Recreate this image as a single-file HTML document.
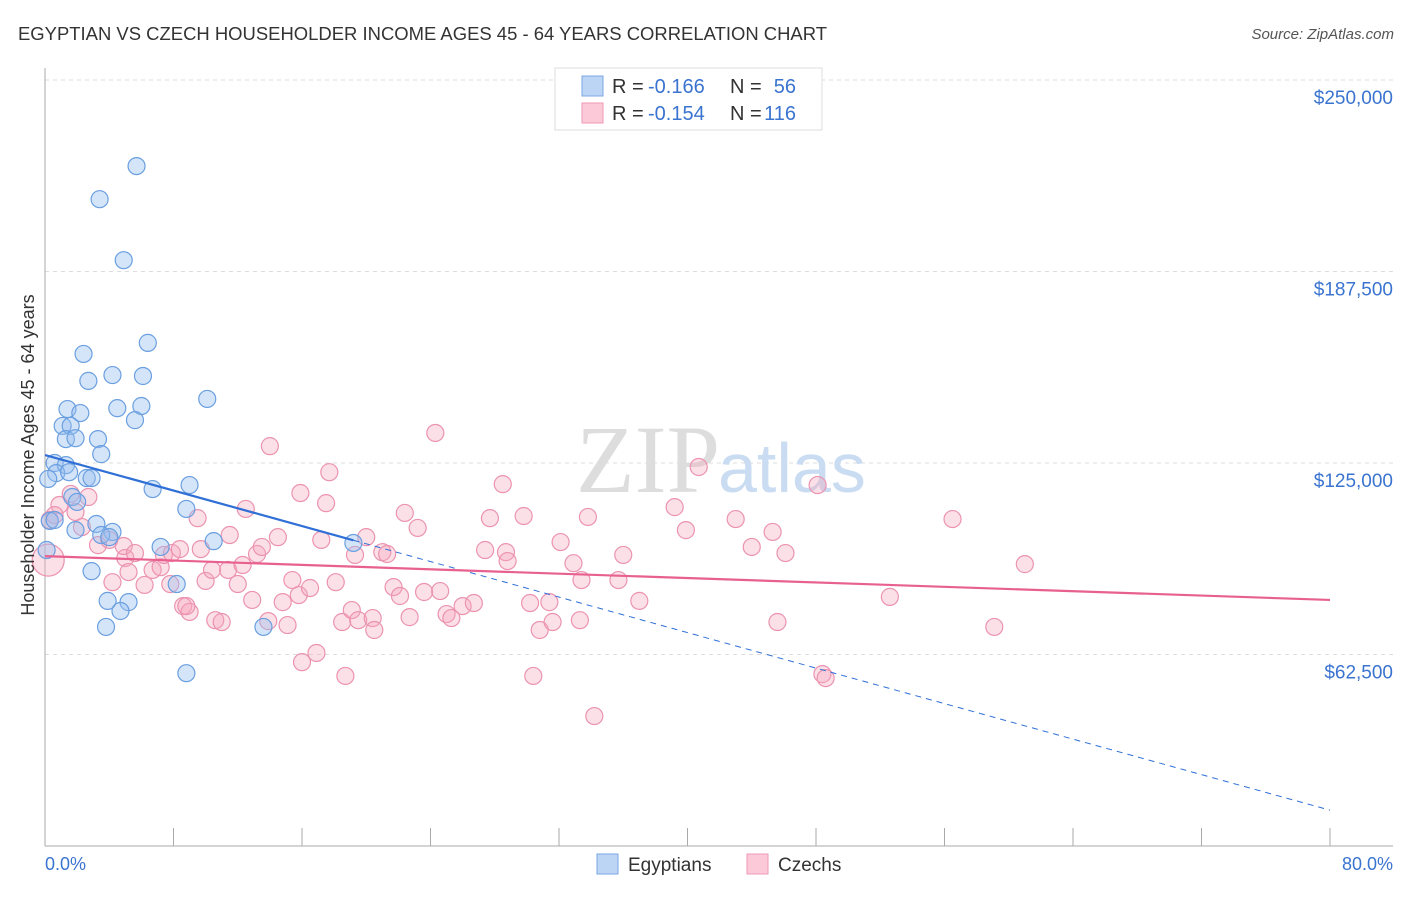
<!DOCTYPE html>
<html><head><meta charset="utf-8"><style>
body{margin:0;background:#fff;font-family:"Liberation Sans",sans-serif;}
</style></head><body>
<svg width="1406" height="892" xmlns="http://www.w3.org/2000/svg" font-family="Liberation Sans, sans-serif">
<text x="18" y="40" font-size="18" fill="#333" textLength="809" lengthAdjust="spacingAndGlyphs">EGYPTIAN VS CZECH HOUSEHOLDER INCOME AGES 45 - 64 YEARS CORRELATION CHART</text>
<text x="1394" y="39" font-size="15" fill="#555" font-style="italic" text-anchor="end">Source: ZipAtlas.com</text>
<g id="grid"></g>
<text x="720" y="492" font-size="96" fill="#ddd" text-anchor="end" font-family="Liberation Serif, serif">ZIP</text>
<text x="718" y="492" font-size="70" fill="#c9dcf2">atlas</text>
<g id="pts"></g>
<g id="lines"></g>
<text x="34" y="455" font-size="18" fill="#333" text-anchor="middle" transform="rotate(-90 34 455)">Householder Income Ages 45 - 64 years</text>
<text x="45" y="870" font-size="18" fill="#3a74d0">0.0%</text>
<text x="1393" y="870" font-size="18" fill="#3a74d0" text-anchor="end">80.0%</text>
<g>
<rect x="555" y="68" width="267" height="62" fill="#fff" stroke="#ddd"/>
<rect x="582" y="76" width="21" height="20" fill="#bcd5f5" stroke="#7aa7e3"/>
<rect x="582" y="103" width="21" height="20" fill="#fbc9d8" stroke="#ef9ab5"/>
<text x="612" y="93" font-size="20" fill="#333">R =</text>
<text x="648" y="93" font-size="20" fill="#3a74d0">-0.166</text>
<text x="730" y="93" font-size="20" fill="#333">N =</text>
<text x="796" y="93" font-size="20" fill="#3a74d0" text-anchor="end">56</text>
<text x="612" y="120" font-size="20" fill="#333">R =</text>
<text x="648" y="120" font-size="20" fill="#3a74d0">-0.154</text>
<text x="730" y="120" font-size="20" fill="#333">N =</text>
<text x="796" y="120" font-size="20" fill="#3a74d0" text-anchor="end">116</text>
</g>
<g>
<rect x="597" y="854" width="21" height="20" fill="#bcd5f5" stroke="#7aa7e3"/>
<text x="628" y="871" font-size="19" fill="#333">Egyptians</text>
<rect x="747" y="854" width="21" height="20" fill="#fbc9d8" stroke="#ef9ab5"/>
<text x="778" y="871" font-size="19" fill="#333">Czechs</text>
</g>
</svg>
<script>
const yTicks=[62500,125000,187500,250000];
const yTickLabels=["$62,500","$125,000","$187,500","$250,000"];
const xTicks=[0,8,16,24,32,40,48,56,64,72,80];
const egX=[5.7,3.4,4.9,6.4,2.4,4.2,6.1,2.7,10.1,1.4,2.2,4.5,6.0,5.6,1.1,1.6,1.3,1.9,3.3,3.5,0.6,1.3,0.7,1.5,2.6,2.9,6.7,9.0,0.2,1.7,2.0,8.8,3.2,0.3,0.6,1.9,4.2,3.5,4.0,7.2,10.5,19.2,0.1,2.9,8.2,3.9,5.2,4.7,3.8,13.6,8.8];
const egY=[221.9,211.1,191.2,164.2,160.6,153.7,153.4,151.8,145.9,142.6,141.3,142.9,143.6,139.0,137.1,137.1,132.8,133.1,132.8,127.9,125.0,124.3,121.7,122.0,120.1,120.1,116.5,117.8,119.8,113.9,112.3,110.0,105.1,106.1,106.4,103.1,102.5,101.5,100.8,97.6,99.5,98.9,96.6,89.7,85.5,80.0,79.6,76.7,71.5,71.5,56.4];
const czX=[0.2,0.3,0.9,1.6,2.7,0.6,1.9,2.3,3.3,4.0,4.2,5.0,4.9,5.6,5.2,6.2,6.7,7.2,7.4,7.9,8.4,7.8,8.6,9.0,8.8,9.5,9.7,10.0,10.4,10.6,11.0,11.5,11.4,12.0,12.3,12.5,12.9,13.2,13.5,13.9,14.5,14.0,14.8,15.1,15.4,15.8,15.9,16.0,16.5,16.9,17.5,17.2,17.7,18.1,18.5,18.7,19.1,19.5,19.3,20.0,20.4,20.5,21.0,21.3,21.7,22.1,22.4,22.7,23.2,23.6,24.3,24.6,25.0,25.3,26.0,26.7,27.4,27.7,28.5,28.7,28.8,29.8,30.2,30.4,30.8,31.4,31.6,32.1,32.9,33.4,33.8,34.2,35.7,36.0,37.0,39.2,39.9,40.7,43.0,44.0,45.6,45.3,46.1,48.1,48.4,48.6,52.6,56.5,59.1,61.0,33.3];
const czY=[93.3,106.4,111.3,114.9,113.9,108.0,109.0,104.1,98.2,99.9,86.1,94.0,97.9,95.6,89.4,85.2,90.1,91.0,95.0,95.6,96.9,85.5,78.3,76.4,78.3,107.0,96.9,86.5,90.1,73.7,73.1,101.5,90.1,85.5,91.7,110.0,80.3,95.3,97.6,73.4,100.8,130.5,79.6,72.1,86.8,81.9,115.2,60.0,84.2,63.0,111.9,99.9,122.0,86.1,73.1,55.5,77.0,73.7,95.0,100.8,74.4,70.5,95.9,95.3,84.5,81.6,108.7,74.7,103.8,82.9,134.8,83.2,75.7,74.4,78.3,79.3,96.6,107.0,118.1,95.9,93.0,107.7,79.3,55.5,70.5,79.6,73.1,99.2,92.3,86.8,107.4,42.4,86.8,95.0,80.0,110.6,103.1,123.7,106.7,97.6,73.1,102.5,95.6,117.8,56.1,54.8,81.3,106.7,71.5,92.0,73.7];
const egTrend=[127.6,11.7];
const czTrend=[94.6,80.3];
const egSolidEnd=19.2;
const NS="http://www.w3.org/2000/svg";
const xs=v=>45+v/80*1285;
const ys=v=>80+(250000-v)/62500*191.5;
function mk(t,a,p){const e=document.createElementNS(NS,t);for(const k in a)e.setAttribute(k,a[k]);p.appendChild(e);return e;}
const grid=document.getElementById('grid');
yTicks.forEach((v,i)=>{
 const l=mk('line',{x1:45,x2:1393,y1:ys(v),y2:ys(v),stroke:'#ddd','stroke-dasharray':'4,4'},grid);
 
 
 const t=mk('text',{x:1393,y:ys(v)+24,'font-size':19,fill:'#3a74d0','text-anchor':'end'},grid);
 t.textContent=yTickLabels[i];
 
 
});
const ax=mk('line',{x1:45,x2:45,y1:68,y2:846,stroke:'#aaa'},grid);


const bx=mk('line',{x1:45,x2:1393,y1:846,y2:846,stroke:'#aaa'},grid);


xTicks.forEach(v=>{
 const t=mk('line',{x1:xs(v),x2:xs(v),y1:828,y2:846,stroke:'#aaa'},grid);
 
 
});
const pts=document.getElementById('pts');
czX.forEach((x,i)=>{
 const c=mk('circle',{cx:xs(x),cy:ys(czY[i]*1000),r:i==0?16:8.5,fill:'rgba(245,165,190,0.35)',stroke:'#eb93b0','stroke-width':1.2},pts);
 
 
});
egX.forEach((x,i)=>{
 const c=mk('circle',{cx:xs(x),cy:ys(egY[i]*1000),r:8.5,fill:'rgba(150,190,240,0.4)',stroke:'#6a9fe0','stroke-width':1.2},pts);
 
 
});
const lines=document.getElementById('lines');
const ey=x=>egTrend[0]+(egTrend[1]-egTrend[0])*x/80;
let l1=mk('line',{x1:xs(0),y1:ys(ey(0)*1000),x2:xs(egSolidEnd),y2:ys(ey(egSolidEnd)*1000),stroke:'#2f6fd6','stroke-width':2.2},lines);


let l2=mk('line',{x1:xs(egSolidEnd),y1:ys(ey(egSolidEnd)*1000),x2:xs(80),y2:ys(ey(80)*1000),stroke:'#2f6fd6','stroke-width':1,'stroke-dasharray':'6,5'},lines);


let l3=mk('line',{x1:xs(0),y1:ys(czTrend[0]*1000),x2:xs(80),y2:ys(czTrend[1]*1000),stroke:'#e8608f','stroke-width':2.2},lines);


</script>
</body></html>
